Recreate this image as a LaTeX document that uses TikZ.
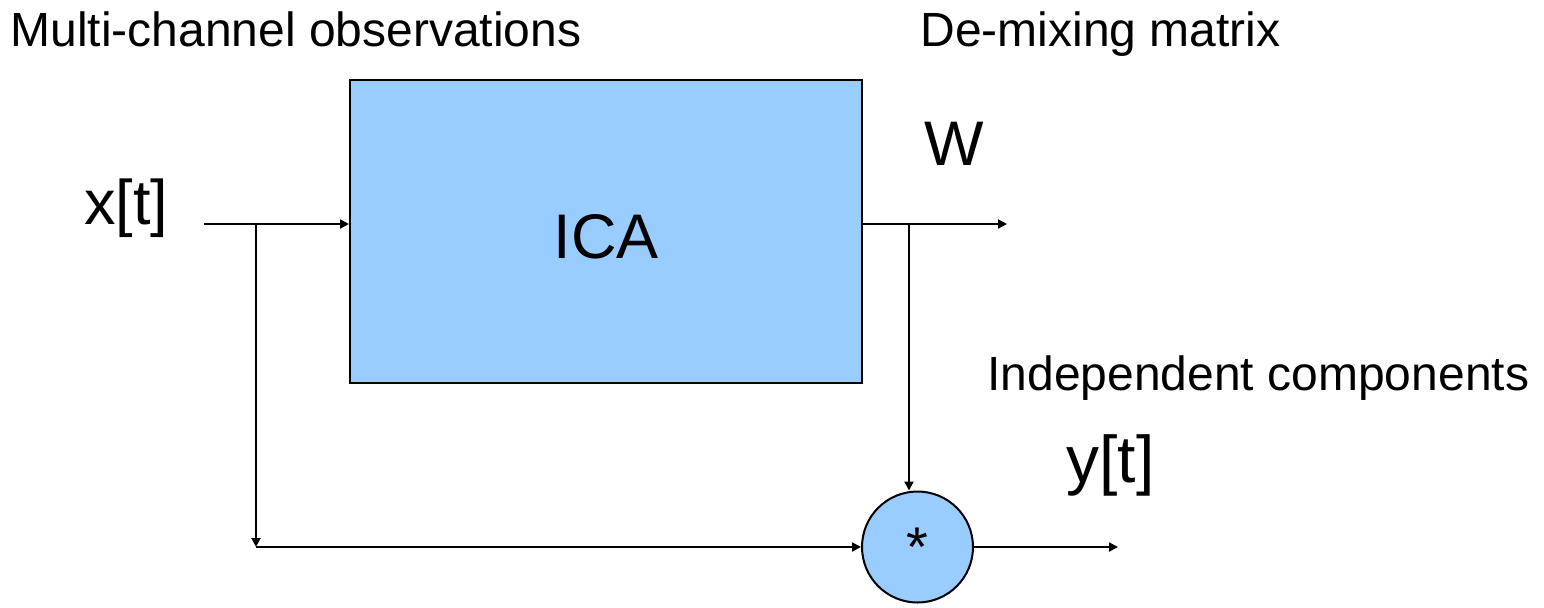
\documentclass[tikz,border=0pt]{standalone}
\usepackage{fontspec}
\setmainfont{Liberation Sans}
\usetikzlibrary{arrows.meta}
\definecolor{boxblue}{HTML}{99CCFF}
\begin{document}
\begin{tikzpicture}[x=0.5pt,y=-0.5pt,
  conn/.style={line width=1pt,-{Triangle[length=4.5pt,width=4.5pt]}},
  lbl/.style={inner sep=0pt,anchor=base west,font=\fontsize{24pt}{28pt}\selectfont},
  big/.style={inner sep=0pt,anchor=base west,font=\fontsize{31.5pt}{36pt}\selectfont}]
\useasboundingbox (0,0) rectangle (1544,607);
\node[draw,line width=1pt,fill=boxblue,minimum width=256pt,minimum height=151.5pt,inner sep=0pt] (ica) at (606,231.5) {};
\node[big,anchor=base] (icat) at (606,258) {ICA};
\node[circle,draw,line width=1pt,fill=boxblue,minimum size=55.5pt,inner sep=0pt] (mul) at (917.5,547) {};
\node[inner sep=0pt,anchor=base,font=\fontsize{28pt}{32pt}\selectfont] (star) at (917.5,566) {*};
\coordinate (xin) at (204,224);
\coordinate (b1) at (256,224);
\coordinate (b1d) at (256,547);
\coordinate (wout) at (1007,224);
\coordinate (b2) at (909,224);
\coordinate (yout) at (1118,547);
\node[lbl] (mco) at (10,46) {Multi-channel observations};
\node[lbl] (dmm) at (920,46) {De-mixing matrix};
\node[lbl] (ic) at (987,390) {Independent components};
\node[big] (xt) at (84,224) {x[t]};
\node[big] (w) at (924,165) {W};
\node[big,font=\fontsize{33pt}{38pt}\selectfont] (yt) at (1066,482) {y[t]};
\draw[conn] (xin) -- (ica.west |- xin);
\draw[conn] (b1) -- (b1d);
\draw[conn] (b1d) -- (mul.west |- b1d);
\draw[conn] (ica.east |- wout) -- (wout);
\draw[conn] (b2) -- (b2 |- mul.north);
\draw[conn] (mul.east) -- (yout);
\end{tikzpicture}
\end{document}
